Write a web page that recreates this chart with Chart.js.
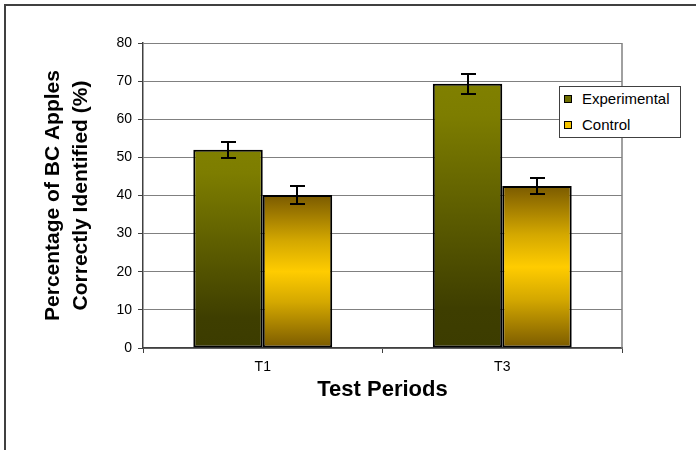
<!DOCTYPE html>
<html>
<head>
<meta charset="utf-8">
<script src="https://cdn.jsdelivr.net/npm/chart.js@4.4.1/dist/chart.umd.min.js"></script>
<style>
  body { margin: 0; background: #fff; font-family: "Liberation Sans", Arial, sans-serif; }
  #wrap { position: relative; width: 696px; height: 450px; overflow: hidden; }
  #frame { position: absolute; left: 4px; top: 4px; width: 720px; height: 480px;
           border-left: 2px solid #404040; border-top: 2px solid #404040; pointer-events: none; }
  #legend { position: absolute; left: 559px; top: 86px; width: 122px; height: 52px; box-sizing: border-box;
            border: 1px solid #404040; background: #fff; }
  .item { position: absolute; left: 4px; height: 20px; line-height: 20px; font-size: 15px; color: #000; white-space: nowrap; }
  .mark { display: inline-block; width: 6px; height: 6px; border: 1.5px solid #000; vertical-align: middle;
          margin-right: 10px; position: relative; top: -1px; }
</style>
</head>
<body>
<div id="wrap">
  <canvas id="chart" width="696" height="450"></canvas>
  <div id="frame"></div>
  <div id="legend"></div>
</div>
<script>
// chart data
const categories = ["T1", "T3"];
const seriesNames = ["Experimental", "Control"];
const experimental = [52, 69.3];
const control = [40.1, 42.5];
const experimentalErr = [2.1, 2.6];
const controlErr = [2.4, 2.15];
const yMin = 0;
const yMax = 80;
const yStep = 10;
const legendColors = ["#6e6e00", "#f5c400"];

const errs = [experimentalErr, controlErr];

// per-bar vertical gradient, from the top of the bar down to zero
function barGradient(stops) {
  return function (context) {
    const chart = context.chart;
    if (!chart.chartArea || context.raw === undefined) return stops[0][1];
    const y = chart.scales.y;
    const top = y.getPixelForValue(context.raw);
    const bottom = y.getPixelForValue(0);
    const g = chart.ctx.createLinearGradient(0, top, 0, bottom);
    stops.forEach(s => g.addColorStop(s[0], s[1]));
    return g;
  };
}

const expStops = [[0, "#808000"], [0.12, "#7d7d00"], [0.85, "#3e3e00"], [1, "#3c3c00"]];
const ctlStops = [[0, "#7a5a00"], [0.3, "#d4a800"], [0.5, "#ffcc00"], [0.7, "#d4a800"], [1, "#7a5a00"]];

// error bars drawn from the data through the y scale
const errorBars = {
  id: "errorBars",
  afterDatasetsDraw(chart) {
    const ctx = chart.ctx;
    const y = chart.scales.y;
    chart.data.datasets.forEach((ds, i) => {
      const meta = chart.getDatasetMeta(i);
      meta.data.forEach((bar, j) => {
        const v = ds.data[j];
        const e = errs[i][j];
        const top = Math.round(y.getPixelForValue(v + e));
        const bot = Math.round(y.getPixelForValue(v - e));
        const x = Math.round(bar.x);
        ctx.save();
        ctx.strokeStyle = "#000";
        ctx.lineWidth = 2;
        ctx.beginPath();
        ctx.moveTo(x, top); ctx.lineTo(x, bot);
        ctx.moveTo(x - 7, top); ctx.lineTo(x + 8, top);
        ctx.moveTo(x - 7, bot); ctx.lineTo(x + 8, bot);
        ctx.stroke();
        ctx.restore();
      });
    });
  }
};

// grey right edge of the plot area
const plotEdge = {
  id: "plotEdge",
  beforeDatasetsDraw(chart) {
    const { ctx, chartArea } = chart;
    ctx.save();
    ctx.strokeStyle = "#808080";
    ctx.lineWidth = 1.5;
    ctx.beginPath();
    ctx.moveTo(chartArea.right, chartArea.top);
    ctx.lineTo(chartArea.right, chartArea.bottom);
    ctx.stroke();
    ctx.restore();
  }
};

const chart = new Chart(document.getElementById("chart"), {
  type: "bar",
  data: {
    labels: categories,
    datasets: [
      {
        label: seriesNames[0],
        data: experimental,
        backgroundColor: barGradient(expStops),
        borderColor: "#000",
        borderWidth: 2,
        borderSkipped: false
      },
      {
        label: seriesNames[1],
        data: control,
        backgroundColor: barGradient(ctlStops),
        borderColor: "#000",
        borderWidth: 2,
        borderSkipped: false
      }
    ]
  },
  options: {
    responsive: false,
    animation: false,
    events: [],
    datasets: {
      bar: { barPercentage: 1, categoryPercentage: 0.58 }
    },
    layout: { padding: { top: 43, right: 74, left: 0, bottom: 0 } },
    plugins: {
      legend: { display: false },
      tooltip: { enabled: false }
    },
    scales: {
      x: {
        afterFit(scale) { scale.height = 102; },
        grid: { drawOnChartArea: false, drawTicks: true, tickLength: 5, tickColor: "#404040" },
        border: { color: "#404040", width: 1.5 },
        ticks: { color: "#000", padding: 6, font: { family: "Liberation Sans", size: 14 } },
        title: {
          display: true,
          text: "Test Periods",
          color: "#000",
          font: { family: "Liberation Sans", size: 22, weight: "bold", lineHeight: 1.2 },
          padding: { top: 0, bottom: 47 }
        }
      },
      y: {
        min: yMin,
        max: yMax,
        afterFit(scale) { scale.width = 143; },
        grid: { color: "#808080", lineWidth: 1, tickLength: 5, tickColor: "#404040" },
        border: { color: "#404040", width: 1.5 },
        ticks: { stepSize: yStep, color: "#000", padding: 6, font: { family: "Liberation Sans", size: 14 } },
        title: {
          display: true,
          text: ["Percentage of BC Apples", "Correctly Identified (%)"],
          color: "#000",
          font: { family: "Liberation Sans", size: 21, weight: "bold", lineHeight: 1.3 },
          padding: { top: 40, bottom: 0 }
        }
      }
    }
  },
  plugins: [plotEdge, errorBars]
});

// legend built from the chart's datasets
const legend = document.getElementById("legend");
chart.data.datasets.forEach((ds, i) => {
  const item = document.createElement("div");
  item.className = "item";
  item.style.top = (i === 0 ? 2 : 28) + "px";
  const mark = document.createElement("span");
  mark.className = "mark";
  mark.style.background = legendColors[i];
  item.appendChild(mark);
  item.appendChild(document.createTextNode(ds.label));
  legend.appendChild(item);
});
</script>
</body>
</html>
